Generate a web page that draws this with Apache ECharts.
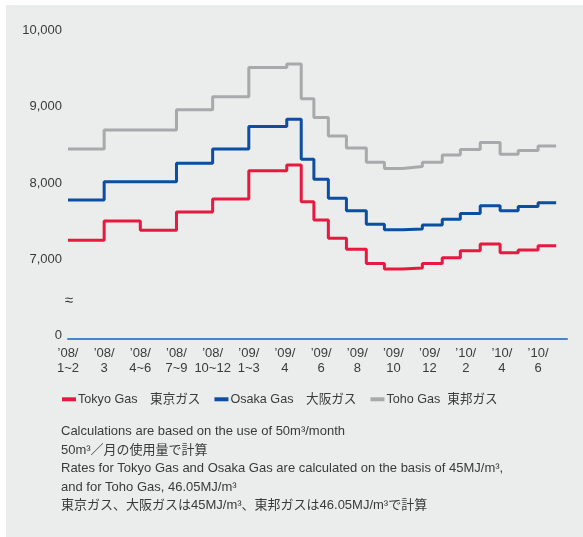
<!DOCTYPE html>
<html>
<head>
<meta charset="utf-8">
<script src="https://cdn.jsdelivr.net/npm/echarts@6/dist/echarts.min.js"></script>
<style>
  body { margin: 0; background: #fff; }
  #panel { position: absolute; left: 6px; top: 5px; width: 577px; height: 532px; background: #ebecec; }
  #main { position: absolute; left: 0; top: 0; width: 583px; height: 537px; }
</style>
</head>
<body>
<div id="panel"></div>
<div id="main"></div>
<script>
// x tick labels, one every 2 axis units
const xTickLabels = ['’08/\n1~2', '’08/\n3', '’08/\n4~6', '’08/\n7~9', '’08/\n10~12', '’09/\n1~3', '’09/\n4',
    '’09/\n6', '’09/\n8', '’09/\n10', '’09/\n12', '’10/\n2', '’10/\n4', '’10/\n6'];

// where each rate period starts on the x axis (as drawn in the original), and where the last ends
const periodStart = [0, 2, 4, 6, 8, 10, 12.1, 12.9, 13.6, 14.4, 15.4, 16.5, 17.5, 18.5, 19.6, 20.7, 21.7, 22.8, 23.9, 24.9, 26];
const periodEnd = 27;

// monthly bill, yen (axis is broken: 6,000 is shown as 0)
const tokyoGas = [7290, 7540, 7420, 7660, 7830, 8200, 8275, 7795, 7555, 7315, 7170, 6985, 6910, 6925, 6985, 7060, 7150, 7240, 7125, 7160, 7215];
const osakaGas = [7815, 8055, 8055, 8300, 8485, 8780, 8875, 8350, 8090, 7840, 7675, 7500, 7425, 7435, 7490, 7565, 7640, 7740, 7675, 7730, 7780];
const tohoGas  = [8485, 8735, 8735, 9000, 9170, 9555, 9600, 9145, 8900, 8655, 8500, 8310, 8230, 8255, 8310, 8405, 8480, 8570, 8415, 8465, 8525];

const seriesNames = ['Tokyo Gas　東京ガス', 'Osaka Gas　大阪ガス', 'Toho Gas  東邦ガス'];
const seriesColors = ['#e8193f', '#0b4ea2', '#a8a9ab'];

const notes = [
    'Calculations are based on the use of 50m³/month',
    '50m³／月の使用量で計算',
    'Rates for Tokyo Gas and Osaka Gas are calculated on the basis of 45MJ/m³,',
    'and for Toho Gas, 46.05MJ/m³',
    '東京ガス、大阪ガスは45MJ/m³、東邦ガスは46.05MJ/m³で計算'
];

const fontFamily = "'Liberation Sans', 'Noto Sans CJK JP', sans-serif";

function toSteps(values) {
    let pts = periodStart.map((x, i) => [x, values[i]]);
    pts.push([periodEnd, values[values.length - 1]]);
    return pts;
}

let myChart = echarts.init(document.getElementById('main'));

let option = {
    animation: false,
    textStyle: { fontFamily: fontFamily },
    grid: { left: 68, right: 16, top: 33.5, bottom: 198.5 },
    legend: {
        left: 62,
        top: 393,
        padding: 0,
        icon: 'rect',
        itemWidth: 14,
        itemHeight: 4,
        itemGap: 14,
        textStyle: { fontSize: 12.6, color: '#3a3a3a', fontFamily: fontFamily, padding: [0, 0, 0, -3] },
        data: seriesNames
    },
    xAxis: {
        type: 'value',
        min: 0,
        max: 27.6,
        interval: 2,
        splitLine: { show: false },
        axisTick: { show: false },
        axisLine: { show: true, lineStyle: { color: '#4a84c8', width: 2 } },
        axisLabel: {
            margin: 8,
            fontSize: 13,
            lineHeight: 14.7,
            color: '#3a3a3a',
            showMaxLabel: false,
            formatter: function (v) {
                let i = v / 2;
                return Number.isInteger(i) && xTickLabels[i] ? xTickLabels[i] : '';
            }
        }
    },
    yAxis: [{
        type: 'value',
        min: 6000,
        max: 10000,
        interval: 500,
        splitLine: { show: false },
        axisLine: { show: false },
        axisTick: { show: false },
        axisLabel: {
            margin: 6,
            fontSize: 13,
            color: '#3a3a3a',
            verticalAlign: 'bottom',
            lineHeight: 6,
            formatter: function (v) {
                if (v === 6000) return '0';
                if (v % 1000 === 0) return echarts.format.addCommas(v);
                return '';
            }
        }
    }, {
        // second copy of the axis only to place the scale-break mark
        type: 'value',
        position: 'left',
        min: 6000,
        max: 10000,
        interval: 500,
        splitLine: { show: false },
        axisLine: { show: false },
        axisTick: { show: false },
        axisLabel: {
            margin: -5,
            fontSize: 15,
            color: '#3a3a3a',
            formatter: function (v) { return v === 6500 ? '≈' : ''; }
        }
    }],
    graphic: [{
        type: 'text',
        left: 61,
        top: 422.5,
        style: {
            text: notes.join('\n'),
            fontSize: 13,
            lineHeight: 18.5,
            fill: '#3a3a3a',
            fontFamily: fontFamily
        }
    }],
    series: [tokyoGas, osakaGas, tohoGas].map((vals, i) => ({
        name: seriesNames[i],
        type: 'line',
        step: 'end',
        showSymbol: false,
        color: seriesColors[i],
        lineStyle: { width: 3, color: seriesColors[i] },
        data: toSteps(vals)
    }))
};
myChart.setOption(option);
</script>
</body>
</html>
